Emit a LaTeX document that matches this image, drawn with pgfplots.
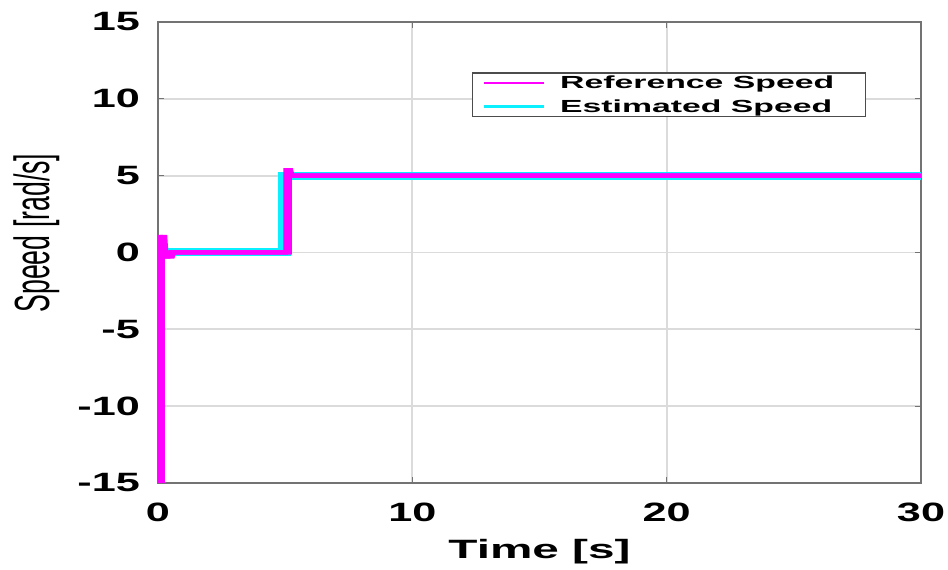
\documentclass[border=0pt]{standalone}
\usepackage{pgfplots}
\pgfplotsset{compat=1.18}
\usepackage{fontspec}
\setmainfont{Liberation Sans}
\definecolor{refmag}{RGB}{255,0,255}
\definecolor{estcyan}{RGB}{10,240,255}
% horizontally widened text
\newcommand\wide[2][1.63]{\scalebox{#1}[1]{#2}}

\begin{document}
\begin{tikzpicture}
\begin{axis}[
  scale only axis,
  width=763pt, height=461pt,
  xmin=0, xmax=30, ymin=-15, ymax=15,
  xtick={0,10,20,30},
  xticklabels={\wide{0},\wide{10},\wide{20},\wide{30}},
  ytick={-15,-10,-5,0,5,10,15},
  yticklabels={\wide{-15},\wide{-10},\wide{-5},\wide{0},\wide{5},\wide{10},\wide{15}},
  tick label style={font=\fontsize{26.5}{30}\selectfont\bfseries, inner sep=0pt},
  xticklabel style={anchor=north, yshift=-20pt},
  yticklabel style={anchor=east, xshift=-18pt},
  tick align=inside,
  major tick length=6pt,
  tick style={color=black!55, line width=1pt},
  axis line style={black!55, line width=1.8pt},
  grid=major,
  grid style={black!14, line width=1.8pt},
  xlabel={\wide[1.8]{Time [s]}},
  xlabel style={font=\fontsize{26.5}{30}\selectfont\bfseries, inner sep=0pt,
    at={(rel axis cs:0.5,0)}, anchor=north, yshift=-56pt},
  ylabel={\scalebox{1}[1.85]{Speed [rad/s]}},
  ylabel style={font=\fontsize{26.7}{30}\selectfont, inner sep=0pt,
    at={(rel axis cs:0,0.542)}, anchor=center, yshift=121.5pt},
  legend style={at={(rel axis cs:0.4115,0.891)}, anchor=north west,
    draw=black!70, line width=1.4pt, font=\fontsize{17.5}{20}\selectfont\bfseries,
    inner xsep=10pt, inner ysep=3pt, row sep=9.5pt, column sep=15pt,
    nodes={inner sep=0pt}},
  legend cell align=left,
  legend image code/.code={\draw[#1, line width=2.5pt] (0pt,0pt) -- (60pt,0pt);},
]
\addlegendimage{refmag}
\addlegendentry{\wide[1.93]{Reference Speed}\hspace*{21pt}}
\addlegendimage{estcyan}
\addlegendentry{\wide[1.93]{Estimated Speed}\hspace*{21pt}}

% estimated speed (drawn twice, side by side, to widen the vertical strokes)
\addplot[estcyan, line width=8pt, forget plot, xshift=-2.5pt] coordinates {
  (0.15,0) (4.98,0) (4.98,5.0) (30,5.0)
};
\addplot[estcyan, line width=8pt, forget plot, xshift=2.5pt] coordinates {
  (0.15,0) (4.98,0) (4.98,5.0) (30,5.0)
};
% reference speed
\addplot[refmag, line width=4.5pt, forget plot, xshift=-2pt] coordinates {
  (0.1,-15) (0.1,1.0) (0.2,1.0) (0.25,-0.25) (0.5,-0.25) (0.55,0)
  (5.1,0) (5.1,5.35) (5.15,5.35) (5.2,5.0) (30,5.0)
};
\addplot[refmag, line width=4.5pt, forget plot, xshift=2pt] coordinates {
  (0.1,-15) (0.1,1.0) (0.2,1.0) (0.25,-0.25) (0.5,-0.25) (0.55,0)
  (5.1,0) (5.1,5.35) (5.15,5.35) (5.2,5.0) (30,5.0)
};
\coordinate (sw) at (rel axis cs:0,0);
\coordinate (ne) at (rel axis cs:1,1);
\end{axis}
\pgfresetboundingbox
\path ([xshift=-158pt,yshift=-86pt]sw) rectangle ([xshift=27pt,yshift=22pt]ne);
\end{tikzpicture}
\end{document}
